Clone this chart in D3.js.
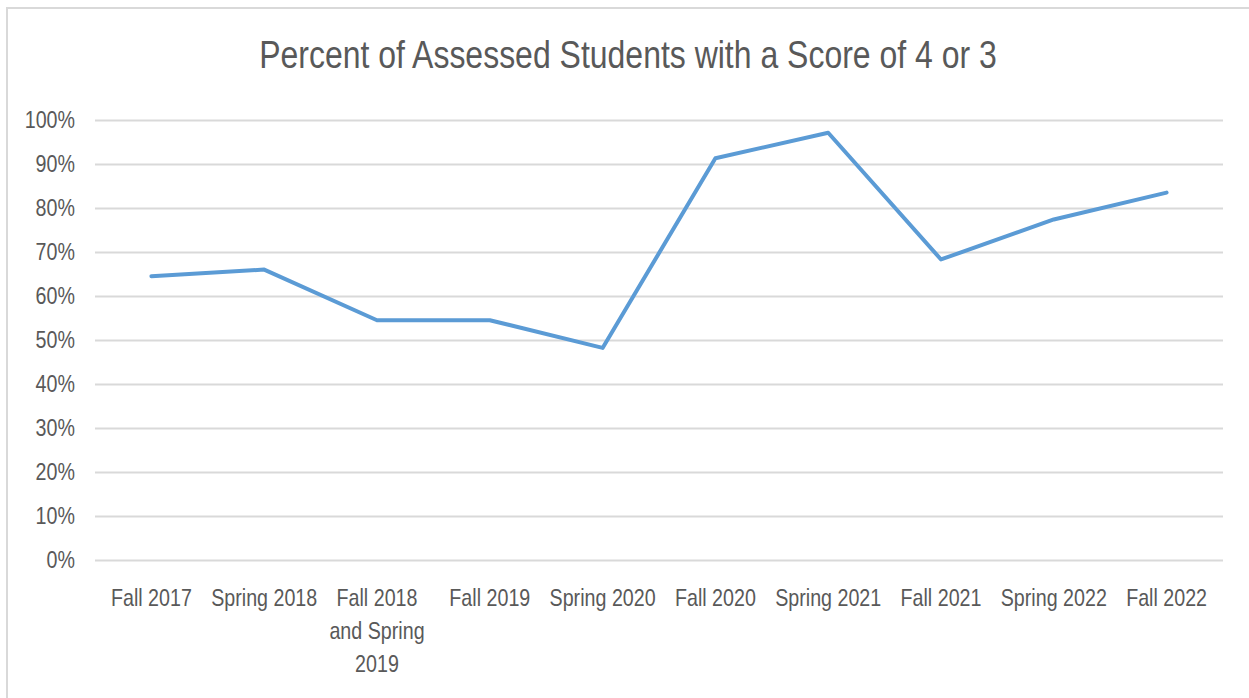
<!DOCTYPE html>
<html>
<head>
<meta charset="utf-8">
<script src="https://cdn.jsdelivr.net/npm/d3@7"></script>
<style>
  body { margin: 0; background: #fff; }
  svg { display: block; }
</style>
</head>
<body>
<div id="chart"></div>
<script>
const categories = ['Fall 2017', 'Spring 2018', 'Fall 2018 and Spring 2019', 'Fall 2019', 'Spring 2020',
    'Fall 2020', 'Spring 2021', 'Fall 2021', 'Spring 2022', 'Fall 2022'];
const values = [64.5, 66, 54.5, 54.5, 48.2, 91.3, 97.1, 68.3, 77.4, 83.5];
const y_ticks = [0, 10, 20, 30, 40, 50, 60, 70, 80, 90, 100];
const title = 'Percent of Assessed Students with a Score of 4 or 3';

const chart_width = 1249;
const chart_height = 698;
// no narrow font installed, so squeeze Liberation Sans sideways
const font = '"Liberation Sans", Arial, sans-serif';
const squeeze = 0.82;
const text_color = '#595959';
const grid_color = '#d9d9d9';

const plot = { left: 95, right: 1223, top: 120, bottom: 560 };

const svg = d3.select('#chart')
    .append('svg')
    .attr('width', chart_width)
    .attr('height', chart_height)
    .style('font-family', font);

// chart frame (right and bottom edges fall outside the picture)
svg.append('rect')
    .attr('x', 7)
    .attr('y', 8)
    .attr('width', chart_width + 20)
    .attr('height', chart_height + 20)
    .attr('fill', 'none')
    .attr('stroke', grid_color)
    .attr('stroke-width', 2);

// title
svg.append('g')
    .attr('transform', `translate(628,68) scale(${squeeze},1)`)
    .append('text')
    .attr('text-anchor', 'middle')
    .attr('font-size', 39)
    .attr('fill', text_color)
    .text(title);

// scales
const x_scale = d3.scaleBand()
    .domain(categories)
    .range([plot.left, plot.right]);

const y_scale = d3.scaleLinear()
    .domain([0, 100])
    .range([plot.bottom, plot.top]);

// y axis + gridlines
const y_axis = svg.append('g')
    .attr('transform', `translate(${plot.left},0)`)
    .call(d3.axisLeft(y_scale)
        .tickValues(y_ticks)
        .tickSize(-(plot.right - plot.left))
        .tickPadding(20)
        .tickFormat(d => d + '%'));

y_axis.select('.domain').remove();
y_axis.selectAll('.tick line')
    .attr('stroke', grid_color)
    .attr('stroke-width', 2);
y_axis.selectAll('.tick text')
    .attr('font-family', font)
    .attr('font-size', 24)
    .attr('fill', text_color)
    .attr('x', -20 / squeeze)
    .attr('dy', '0.3em')
    .attr('transform', `scale(${squeeze},1)`);

// x axis labels
const x_axis = svg.append('g')
    .attr('transform', `translate(0,${plot.bottom})`)
    .call(d3.axisBottom(x_scale).tickSize(0).tickPadding(0));

x_axis.select('.domain').remove();
x_axis.selectAll('.tick text')
    .attr('font-family', font)
    .attr('font-size', 24)
    .attr('fill', text_color)
    .attr('y', 46)
    .attr('dy', 0)
    .attr('transform', `scale(${squeeze},1)`)
    .call(wrap, x_scale.bandwidth() / squeeze);

function wrap(texts, width) {
    texts.each(function () {
        const text = d3.select(this);
        const words = text.text().split(/\s+/);
        const y = text.attr('y');
        text.text(null);
        let line = [];
        let line_no = 0;
        let tspan = text.append('tspan').attr('x', 0).attr('y', y);
        words.forEach(word => {
            line.push(word);
            tspan.text(line.join(' '));
            if (tspan.node().getComputedTextLength() > width && line.length > 1) {
                line.pop();
                tspan.text(line.join(' '));
                line = [word];
                line_no += 1;
                tspan = text.append('tspan')
                    .attr('x', 0)
                    .attr('y', +y + line_no * 33)
                    .text(word);
            }
        });
    });
}

// line
const line = d3.line()
    .x((d, i) => x_scale(categories[i]) + x_scale.bandwidth() / 2)
    .y(d => y_scale(d));

svg.append('path')
    .datum(values)
    .attr('d', line)
    .attr('fill', 'none')
    .attr('stroke', '#5b9bd5')
    .attr('stroke-width', 4)
    .attr('stroke-linejoin', 'round')
    .attr('stroke-linecap', 'round');
</script>
</body>
</html>
